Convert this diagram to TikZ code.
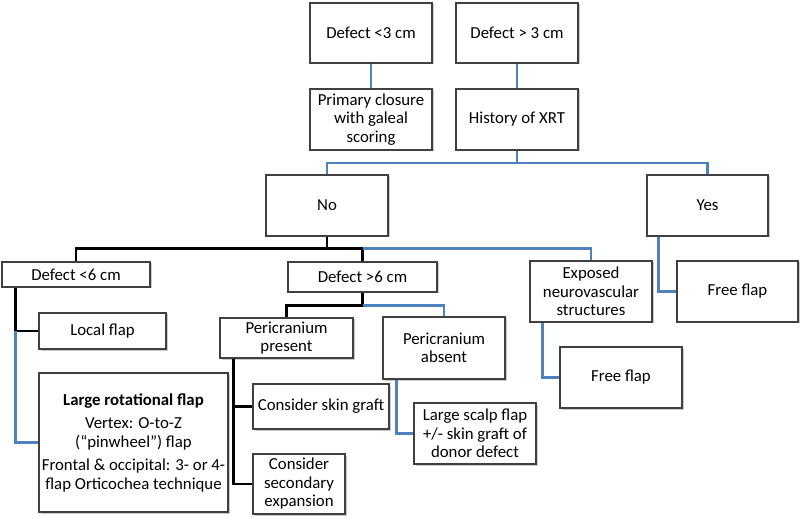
\documentclass[tikz,border=0pt]{standalone}
\usepackage{fontspec}
\setmainfont{Carlito}
\usepackage{tikz}
\usetikzlibrary{positioning}
\usetikzlibrary{shadows}
\definecolor{linkblue}{RGB}{79,129,189}

\begin{document}
\begin{tikzpicture}
        [x=1pt,y=-1pt,
        box/.style={rectangle,draw=black!75,line width=1.2pt,fill=white,align=center,inner sep=2pt,
        font=\fontsize{16.8}{18.5}\selectfont,
        drop shadow={shadow xshift=1.5pt,shadow yshift=-1.5pt,opacity=0.35,fill=black!60}},
        yesno/.style={black,line width=2.2pt},
        alt/.style={linkblue,line width=2.2pt}]

\useasboundingbox (0,0) rectangle (800,518);

% Top %
\node[box,minimum width=122,minimum height=60] (d3) at (371,33) {Defect <3 cm};
\node[box,minimum width=122,minimum height=60] (d3p) at (517,33) {Defect > 3 cm};
\node[box,minimum width=122,minimum height=61] (prim) at (371,119.5) {Primary closure\\with galeal\\scoring};
\node[box,minimum width=122,minimum height=61] (xrt) at (517,119.5) {History of XRT};

% XRT %
\node[box,minimum width=122,minimum height=61] (no) at (327,205.5) {No};
\node[box,minimum width=121,minimum height=61] (yes) at (707.5,205.5) {Yes};
\node[box,minimum width=121,minimum height=61] (free1) at (737.5,291.5) {Free flap};

% Defect size %
\node[box,minimum width=148,minimum height=25] (small) at (76,274.5) {Defect <6 cm};
\node[box,minimum width=149,minimum height=30] (large) at (362.5,277) {Defect >6 cm};
\node[box,minimum width=122,minimum height=61] (expo) at (591,291.5) {Exposed\\neurovascular\\structures};
\node[box,minimum width=127,minimum height=36] (local) at (102.5,331) {Local flap};
\node[box,minimum width=122,minimum height=61] (free2) at (621,377.5) {Free flap};
\node[box,minimum width=189,minimum height=139] (rot) at (133.5,442.5)
        {\textbf{Large rotational flap}\\[5pt]Vertex: O-to-Z\\(“pinwheel”) flap\\[5pt]Frontal \& occipital: 3- or 4-\\flap Orticochea technique};

% Pericranium %
\node[box,minimum width=133,minimum height=40] (peri) at (286.5,338) {Pericranium\\present};
\node[box,minimum width=122,minimum height=62] (noperi) at (444,348) {Pericranium\\absent};
\node[box,minimum width=136,minimum height=45] (graft) at (321,406.5) {Consider skin graft};
\node[box,minimum width=92,minimum height=60] (expan) at (299,484) {Consider\\secondary\\expansion};
\node[box,minimum width=122,minimum height=61] (scalp) at (475,433.5) {Large scalp flap\\+/- skin graft of\\donor defect};

% Links %
\draw[alt] (d3.south) -- (prim.north);
\draw[alt] (d3p.south) -- (xrt.north);
\draw[alt] (xrt.south) -- ++(0,12.5) coordinate (j1);
\draw[alt] (j1) -| (no.north);
\draw[alt] (j1) -| (yes.north);
\draw[alt] ([xshift=12pt]yes.south west) |- (free1.west);

\draw[yesno] (no.south) -- ++(0,12) coordinate (j2);
\draw[yesno] (j2) -| (small.north);
\draw[yesno] (j2) -| (large.north);
\draw[alt] (large.north |- j2) -| (expo.north);
\draw[alt] ([xshift=13pt]expo.south west) |- (free2.west);

\coordinate (t1) at ([xshift=14pt]small.south west);
\draw[yesno] (t1) |- (local.west);
\draw[alt] (t1 |- local.west) |- (rot.west);

\draw[yesno] (large.south) -- ++(0,13) coordinate (j3);
\draw[yesno] (j3) -| (peri.north);
\draw[alt] (j3) -| (noperi.north);

\coordinate (t2) at ([xshift=14pt]peri.south west);
\draw[yesno] (t2) |- (expan.west);
\draw[yesno] (t2 |- graft.west) -- (graft.west);
\draw[alt] ([xshift=14pt]noperi.south west) |- (scalp.west);
\end{tikzpicture}
\end{document}
